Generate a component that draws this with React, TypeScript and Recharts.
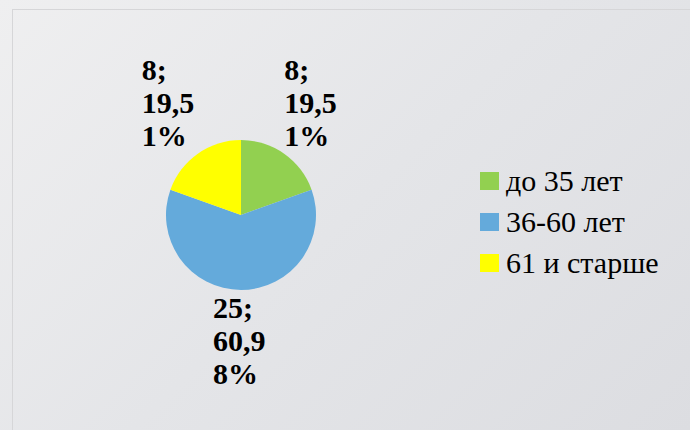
import React from "react";
import { PieChart, Pie, Cell, Legend } from "recharts";

const categories = ["до 35 лет", "36-60 лет", "61 и старше"];
const values = [8, 25, 8];
const colors = ["#92d050", "#64aadb", "#ffff00"];

const data = categories.map((name, i) => ({ name, value: values[i] }));

const RAD = Math.PI / 180;
const FONT = "Liberation Serif, DejaVu Serif, Times New Roman, serif";

// PowerPoint-style label: "value; percent" wrapped in three lines
const renderLabel = (props: any) => {
  const { cx, cy, midAngle, outerRadius, value, percent } = props;
  const x = cx + (outerRadius + 49) * Math.cos(-midAngle * RAD);
  const y = cy + (outerRadius + 56) * Math.sin(-midAngle * RAD);
  const pct = (percent * 100).toFixed(2).replace(".", ",") + "%";
  const lines = [`${value};`, pct.slice(0, 4), pct.slice(4)];
  return (
    <text
      x={x - 28}
      y={y - 28}
      fill="#000"
      style={{ fontFamily: FONT, fontWeight: 700, fontSize: 30 }}
      textAnchor="start"
    >
      {lines.map((t, i) => (
        <tspan key={i} x={x - 28} dy={i === 0 ? 0 : 33}>
          {t}
        </tspan>
      ))}
    </text>
  );
};

const renderLegend = () => (
  <div style={{ fontFamily: FONT, fontSize: 30 }}>
    {data.map((d, i) => (
      <div key={d.name} style={{ display: "flex", alignItems: "center", height: 41 }}>
        <span
          style={{
            display: "inline-block",
            width: 19,
            height: 18,
            background: colors[i],
            marginRight: 7,
          }}
        />
        <span style={{ color: "#000", lineHeight: "41px" }}>{d.name}</span>
      </div>
    ))}
  </div>
);

export default function App() {
  return (
    <div
      style={{
        position: "absolute",
        left: 0,
        top: 0,
        width: 690,
        height: 430,
        background: "linear-gradient(135deg, #efeff0 0%, #e4e5e8 50%, #dcdde1 100%)",
        overflow: "hidden",
      }}
    >
      <div
        style={{
          position: "absolute",
          left: 12,
          top: 9,
          width: 700,
          height: 440,
          borderLeft: "1px solid #d6d6d8",
          borderTop: "1px solid #d6d6d8",
        }}
      />
      <PieChart
        width={690}
        height={430}
        margin={{ top: 0, right: 0, bottom: 0, left: 0 }}
        style={{ position: "absolute", left: 0, top: 0 }}
      >
        <Pie
          data={data}
          dataKey="value"
          nameKey="name"
          cx={241}
          cy={215}
          outerRadius={75}
          startAngle={90}
          endAngle={-270}
          stroke="none"
          label={renderLabel}
          labelLine={false}
          isAnimationActive={false}
        >
          {data.map((d, i) => (
            <Cell key={`cell-${d.name}`} fill={colors[i]} />
          ))}
        </Pie>
        <Legend
          layout="vertical"
          align="right"
          verticalAlign="top"
          content={renderLegend}
          wrapperStyle={{ left: 480, top: 160, width: 210 }}
        />
      </PieChart>
    </div>
  );
}
